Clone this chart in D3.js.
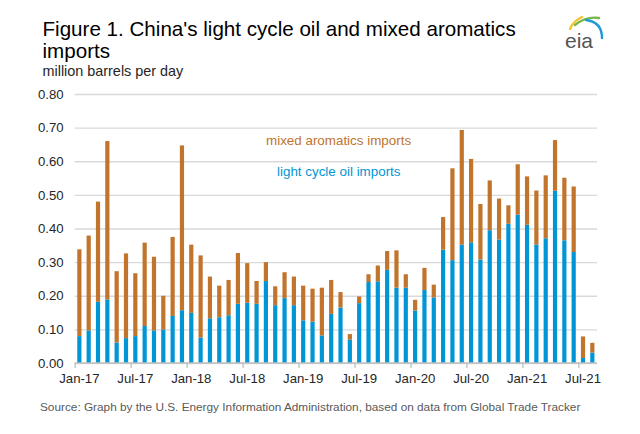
<!DOCTYPE html>
<style>
body { margin: 0; background: #fff; }
text { font-family: "Liberation Sans", Arial, sans-serif; }
.axis .domain { display: none; }
</style>
<svg width="640" height="434"></svg>
<script src="https://d3js.org/d3.v7.min.js"></script>
<script>

// monthly values, Jan-17 .. Aug-21, million barrels per day
var lightCycleOil = [0.080, 0.097, 0.182, 0.189, 0.061, 0.074, 0.080, 0.110, 0.097, 0.100, 0.140, 0.157,
                     0.149, 0.076, 0.133, 0.136, 0.142, 0.176, 0.179, 0.176, 0.244, 0.172, 0.193, 0.172,
                     0.127, 0.123, 0.082, 0.146, 0.165, 0.070, 0.178, 0.241, 0.243, 0.277, 0.224, 0.224,
                     0.156, 0.217, 0.195, 0.337, 0.306, 0.352, 0.359, 0.308, 0.395, 0.367, 0.414, 0.441,
                     0.411, 0.352, 0.371, 0.512, 0.365, 0.330, 0.015, 0.031];
var mixedAromatics = [0.258, 0.282, 0.298, 0.471, 0.212, 0.252, 0.187, 0.248, 0.219, 0.100, 0.235, 0.490,
                      0.203, 0.244, 0.124, 0.094, 0.105, 0.151, 0.118, 0.068, 0.056, 0.056, 0.077, 0.085,
                      0.103, 0.098, 0.142, 0.101, 0.046, 0.016, 0.020, 0.023, 0.047, 0.056, 0.111, 0.040,
                      0.032, 0.066, 0.038, 0.097, 0.273, 0.341, 0.248, 0.165, 0.148, 0.122, 0.055, 0.150,
                      0.144, 0.161, 0.187, 0.151, 0.186, 0.195, 0.064, 0.029];
var months = d3.timeMonths(new Date(2017, 0, 1), new Date(2021, 8, 1));
var yTicks = [0, 0.1, 0.2, 0.3, 0.4, 0.5, 0.6, 0.7, 0.8];
var keys = ["lco", "mixed"];

var data = months.map(function(m, i) {
  return {month: m, lco: lightCycleOil[i], mixed: mixedAromatics[i]};
});

var svg = d3.select("svg"),
    margin = {top: 94, right: 43, bottom: 71, left: 74.7},
    width = 640 - margin.left - margin.right,
    height = 434 - margin.top - margin.bottom,
    g = svg.append("g").attr("transform", "translate(" + margin.left + "," + margin.top + ")");

var fmtMonth = d3.timeFormat("%b-%y");

var x = d3.scaleBand()
    .domain(data.map(function(d, i) { return i; }))
    .range([0, width])
    .paddingInner(0.55)
    .paddingOuter(0.275);

// tick marks sit between categories
var xEdge = d3.scaleLinear().domain([0, data.length]).range([0, width]);

var y = d3.scaleLinear().domain([0, 0.8]).range([height, 0]);

var z = d3.scaleOrdinal().domain(keys).range(["#0096d6", "#c0742c"]);

// gridlines + y labels
g.append("g")
    .attr("class", "axis")
    .call(d3.axisLeft(y).tickValues(yTicks).tickSize(-width).tickPadding(11).tickFormat(d3.format(".2f")))
    .call(function(a) {
      a.selectAll("line").attr("stroke", "#d9d9d9").attr("stroke-width", 1.3);
      a.selectAll("text").attr("font-size", 13.2).attr("fill", "#262626")
        .attr("font-family", "Liberation Sans, Arial, sans-serif");
    });

g.append("g")
  .selectAll("g")
  .data(d3.stack().keys(keys)(data))
  .enter().append("g")
    .attr("fill", function(d) { return z(d.key); })
  .selectAll("rect")
  .data(function(d) { return d; })
  .enter().append("rect")
    .attr("x", function(d, i) { return x(i); })
    .attr("y", function(d) { return y(d[1]); })
    .attr("height", function(d) { return y(d[0]) - y(d[1]); })
    .attr("width", x.bandwidth());

// base line and tick marks
g.append("line")
    .attr("x1", 0).attr("x2", width)
    .attr("y1", height).attr("y2", height)
    .attr("stroke", "#bfbfbf").attr("stroke-width", 1.3);

g.append("g")
    .attr("class", "axis")
    .attr("transform", "translate(0," + height + ")")
    .call(d3.axisBottom(xEdge).tickValues(d3.range(0, data.length, 6)).tickSize(5).tickFormat(""))
    .selectAll("line").attr("stroke", "#bfbfbf").attr("stroke-width", 1.3);

g.append("g")
    .attr("class", "axis")
    .attr("transform", "translate(0," + height + ")")
    .call(d3.axisBottom(x)
      .tickValues(d3.range(0, data.length, 6))
      .tickSize(0).tickPadding(11)
      .tickFormat(function(i) { return fmtMonth(months[i]); }))
    .call(function(a) {
      a.selectAll("text").attr("font-size", 13.2).attr("fill", "#262626")
        .attr("font-family", "Liberation Sans, Arial, sans-serif");
    });

// series labels
svg.append("text")
    .attr("x", 266).attr("y", 145.3)
    .attr("font-size", 13.4).attr("fill", "#c0742c")
    .text("mixed aromatics imports");
svg.append("text")
    .attr("x", 277).attr("y", 175.7)
    .attr("font-size", 13.4).attr("fill", "#0096d6")
    .text("light cycle  oil imports");

// titles
svg.append("text")
    .attr("x", 42.5).attr("y", 35.7)
    .attr("font-size", 20.6).attr("fill", "#000")
    .text("Figure 1. China's light cycle oil and mixed aromatics");
svg.append("text")
    .attr("x", 42.5).attr("y", 58.3)
    .attr("font-size", 20.6).attr("fill", "#000")
    .text("imports");
svg.append("text")
    .attr("x", 42.5).attr("y", 76)
    .attr("font-size", 14.4).attr("fill", "#262626")
    .text("million barrels per day");

svg.append("text")
    .attr("x", 40).attr("y", 411)
    .attr("font-size", 11.8).attr("fill", "#595959")
    .text("Source: Graph by the U.S. Energy Information Administration, based on data from Global Trade Tracker");

// eia logo
var logo = svg.append("g").attr("fill", "none").attr("stroke-linecap", "round");
logo.append("path").attr("d", "M570,29 Q573,21 582,17").attr("stroke", "#f4c430").attr("stroke-width", 2.4);
logo.append("path").attr("d", "M575,25 Q586,16 599,18").attr("stroke", "#7ab648").attr("stroke-width", 2.4);
logo.append("path").attr("d", "M586,20 Q602,22 602,38").attr("stroke", "#1e9bd7").attr("stroke-width", 2.4);
svg.append("text")
    .attr("x", 565).attr("y", 47.5)
    .attr("font-family", "DejaVu Serif, Liberation Serif, serif")
    .attr("font-size", 21).attr("fill", "#555")
    .text("eia");

</script>
